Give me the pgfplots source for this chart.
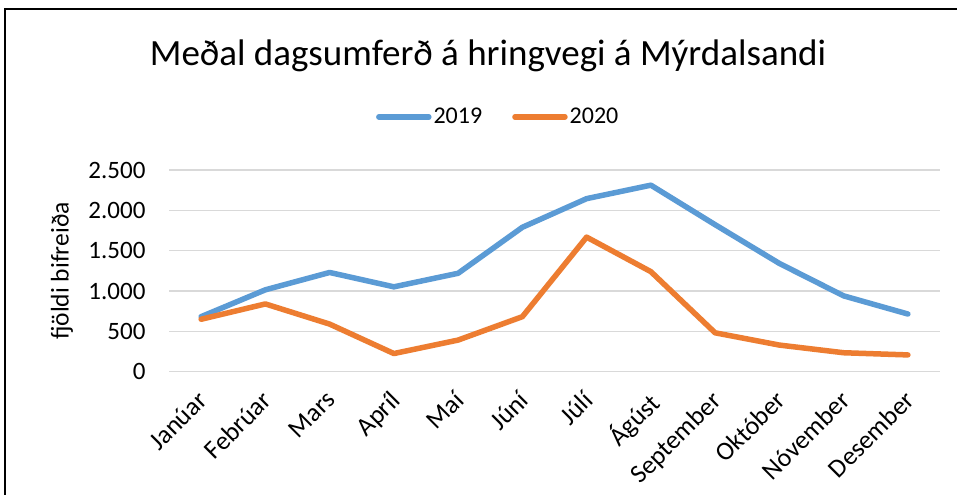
\documentclass[border=0pt]{standalone}
\usepackage{pgfplots}
\pgfplotsset{compat=1.18}
\usepackage{fontspec}
\setmainfont{Carlito}
\definecolor{cblue}{HTML}{5B9BD5}
\definecolor{corange}{HTML}{ED7D31}
\definecolor{cgrid}{HTML}{D9D9D9}
\begin{document}
\begin{tikzpicture}
\useasboundingbox (0,0) rectangle (957bp,495bp);
\fill[white] (0,0) rectangle (957bp,495bp);
\draw[line width=1.6bp,black] (5bp,-2bp) -- (5bp,486bp) -- (960bp,486bp);
\node[anchor=base,font=\fontsize{37bp}{44bp}\selectfont] at (488bp,429bp) {Meðal dagsumferð á hringvegi á Mýrdalsandi};
\node[rotate=90,font=\fontsize{25.5bp}{30bp}\selectfont] at (62bp,224bp) {fjöldi bifreiða};
\begin{axis}[
  at={(169bp,123.3bp)}, anchor=south west,
  scale only axis, width=771bp, height=201.7bp,
  xmin=-0.5, xmax=11.5, ymin=0, ymax=2500,
  ytick={0,500,1000,1500,2000,2500},
  xtick={0,...,11},
  xticklabels={Janúar,Febrúar,Mars,Apríl,Maí,Júní,Júlí,Ágúst,September,Október,Nóvember,Desember},
  x tick label style={xshift=-5bp, yshift=-13bp, rotate=45, anchor=north east, font=\fontsize{26bp}{30bp}\selectfont},
  y tick label style={font=\fontsize{25bp}{30bp}\selectfont, xshift=-20bp},
  /pgf/number format/assume math mode=true,
  /pgf/number format/1000 sep={.},
  major tick length=0pt,
  axis line style={draw=none},
  ymajorgrids, grid style={cgrid,line width=1.3bp},
  legend columns=2,
  legend style={at={(0.427,1.263)}, anchor=center, draw=none, fill=none,
    font=\fontsize{24bp}{28bp}\selectfont,
    /tikz/every even column/.append style={column sep=28bp}},
  legend image code/.code={\draw[#1,line cap=round] (0bp,0bp) -- (50bp,0bp);},
  clip=false,
]
\addplot[cblue, line width=5.5bp, line join=round, line cap=round] coordinates {
(0,682) (1,1015) (2,1230) (3,1052) (4,1220) (5,1790) (6,2145) (7,2312) (8,1822) (9,1342) (10,940) (11,715)};
\addlegendentry{2019}
\addplot[corange, line width=5.5bp, line join=round, line cap=round] coordinates {
(0,650) (1,840) (2,590) (3,225) (4,392) (5,682) (6,1668) (7,1240) (8,482) (9,330) (10,235) (11,208)};
\addlegendentry{2020}
\end{axis}
\end{tikzpicture}
\end{document}
